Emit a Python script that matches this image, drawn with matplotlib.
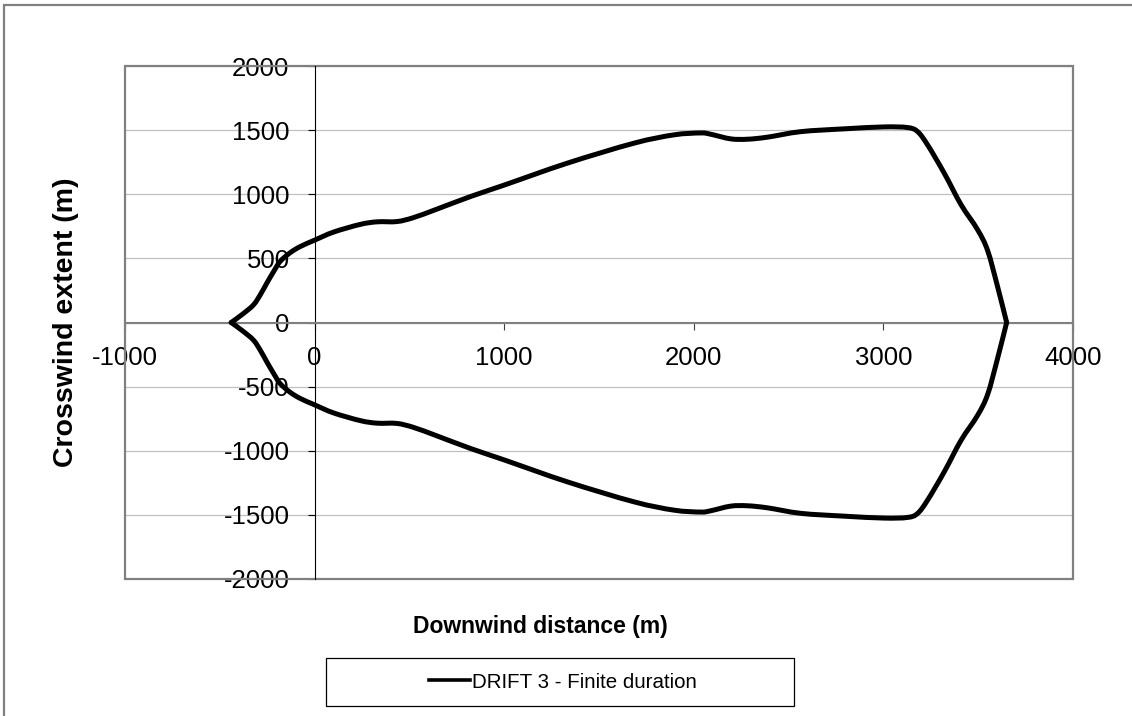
import numpy as np
import matplotlib.pyplot as plt
from matplotlib.lines import Line2D
from matplotlib.patches import PathPatch, Rectangle
from matplotlib.path import Path

plt.rcParams['font.family'] = ['Liberation Sans', 'DejaVu Sans']
plt.rcParams['axes.unicode_minus'] = False

# Plume outline: upper edge from the upwind tip to the downwind tip (m)
upper_x = [-440, -380, -322, -285, -252, -215, -182, -130, -76, 0, 100, 241,
           330, 434, 522, 645, 822, 997, 1332, 1684, 1895, 2036, 2089, 2194,
           2282, 2388, 2564, 2793, 3004, 3127, 3180, 3233, 3321, 3409, 3497,
           3550, 3602, 3650]
upper_y = [0, 65, 138, 220, 307, 400, 476, 543, 592, 642, 705, 765,
           785, 787, 818, 884, 982, 1070, 1242, 1398, 1463, 1478, 1468, 1432,
           1429, 1445, 1488, 1510, 1525, 1520, 1489, 1385, 1164, 920, 723,
           560, 281, 0]

# lower edge, from the downwind tip back to the upwind tip (m)
lower_x = [3650, 3602, 3550, 3497, 3409, 3321, 3233, 3180, 3127, 3004, 2793,
           2564, 2388, 2282, 2194, 2089, 2036, 1895, 1684, 1332, 997, 822, 645,
           522, 434, 330, 241, 100, 0, -76, -130, -182, -215, -252, -285, -322,
           -380, -440]
lower_y = [0, -281, -560, -723, -920, -1164, -1385, -1489, -1520, -1525,
           -1510, -1488, -1445, -1429, -1432, -1468, -1478, -1463, -1398,
           -1242, -1070, -982, -884, -818, -787, -785, -765, -705, -642, -592,
           -543, -476, -400, -307, -220, -138, -65, 0]

x_ticks = [-1000, 0, 1000, 2000, 3000, 4000]
y_ticks = [-2000, -1500, -1000, -500, 0, 500, 1000, 1500, 2000]


def smoothed_path(xs, ys):
    # smoothed line through the points (cubic Bezier, Catmull-Rom tangents)
    pts = np.column_stack([xs, ys]).astype(float)
    n = len(pts)
    verts = [pts[0]]
    codes = [Path.MOVETO]
    for i in range(n - 1):
        p0 = pts[max(i - 1, 0)]
        p1 = pts[i]
        p2 = pts[i + 1]
        p3 = pts[min(i + 2, n - 1)]
        verts += [p1 + (p2 - p0) / 6, p2 - (p3 - p1) / 6, p2]
        codes += [Path.CURVE4] * 3
    return Path(verts, codes)


W, H = 1132, 716
fig = plt.figure(figsize=(W / 100, H / 100), dpi=100)
ax = fig.add_axes([125 / W, 1 - 579 / H, 948 / W, 513 / H])

for xs, ys in [(upper_x, upper_y), (lower_x, lower_y)]:
    ax.add_patch(PathPatch(smoothed_path(xs, ys), fill=False,
                           edgecolor='black', lw=3.6, joinstyle='round',
                           capstyle='round', zorder=3))

ax.set_xlim(-1000, 4000)
ax.set_ylim(-2000, 2000)
ax.set_xticks(x_ticks)
ax.set_yticks(y_ticks)
ax.yaxis.grid(True, color='#c0c0c0', lw=0.9)
ax.set_axisbelow(True)

# axes cross at the origin
ax.spines['left'].set_position(('data', 0))
ax.spines['bottom'].set_position(('data', 0))
ax.spines['left'].set_color('black')
ax.spines['left'].set_linewidth(0.8)
ax.spines['bottom'].set_color('#808080')
ax.spines['bottom'].set_linewidth(1.5)
ax.spines['top'].set_visible(False)
ax.spines['right'].set_visible(False)
ax.add_patch(Rectangle((0, 0), 1, 1, transform=ax.transAxes, fill=False,
                       edgecolor='#808080', lw=1.6, clip_on=False, zorder=1))

ax.tick_params(axis='y', direction='out', length=5, width=0.8,
               color='black', pad=13, labelsize=18.5)
ax.tick_params(axis='x', direction='out', length=5, width=0.8,
               color='#404040', pad=12, labelsize=18.5)

fig.text(540 / W, 1 - 627 / H, 'Downwind distance (m)', ha='center',
         va='center', fontsize=16.5, fontweight='bold')
fig.text(66 / W, 1 - 322 / H, 'Crosswind extent (m)', ha='center',
         va='center', rotation=90, fontsize=20.5, fontweight='bold')

# legend box below the chart
fig.add_artist(Rectangle((326 / W, 1 - 706 / H), 468 / W, 48 / H,
                         transform=fig.transFigure, fill=False,
                         edgecolor='black', lw=0.9))
handle = Line2D([], [], color='black', lw=2.6,
                label='DRIFT 3 - Finite duration')
fig.legend(handles=[handle], loc='center',
           bbox_to_anchor=(563 / W, 1 - 682 / H), frameon=False,
           fontsize=14.8, handlelength=2.0, handletextpad=0.1)

# chart area border
fig.add_artist(Rectangle((4 / W, -0.5), 2.0, 0.5 + (1 - 5 / H),
                         transform=fig.transFigure, fill=False,
                         edgecolor='#808080', lw=1.6))

fig.savefig('out.png', dpi=100)
